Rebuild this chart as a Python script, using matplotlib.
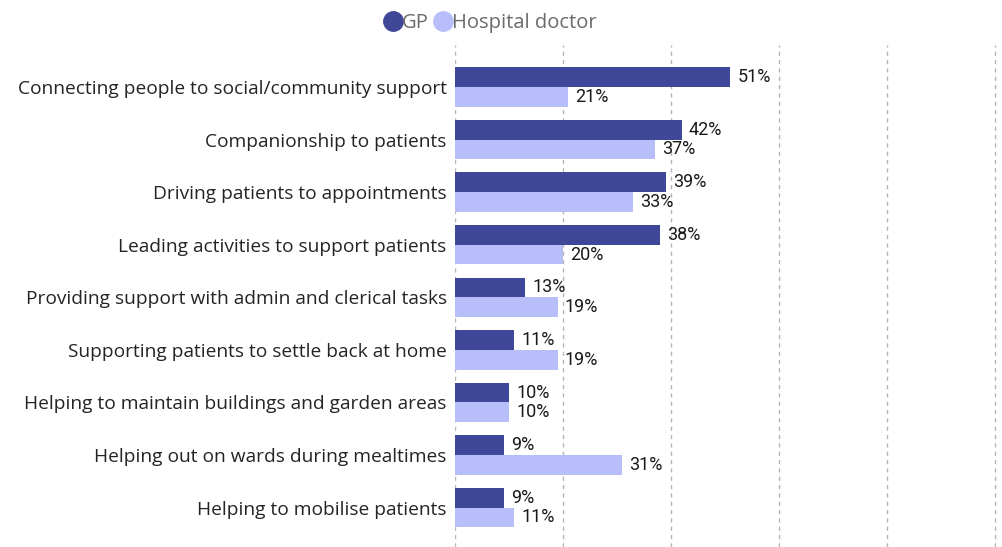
import matplotlib
matplotlib.use("Agg")
import matplotlib.pyplot as plt
from matplotlib.lines import Line2D
import numpy as np

categories = [
    "Connecting people to social/community support",
    "Companionship to patients",
    "Driving patients to appointments",
    "Leading activities to support patients",
    "Providing support with admin and clerical tasks",
    "Supporting patients to settle back at home",
    "Helping to maintain buildings and garden areas",
    "Helping out on wards during mealtimes",
    "Helping to mobilise patients",
]
gp = [51, 42, 39, 38, 13, 11, 10, 9, 9]
hospital = [21, 37, 33, 20, 19, 19, 10, 31, 11]
series_names = ["GP", "Hospital doctor"]

GP_COLOR = "#3F4799"
HOSP_COLOR = "#B8BEFA"

fig = plt.figure(figsize=(10.02, 5.47), dpi=100)
ax = fig.add_axes([455 / 1002, 0, 545 / 1002, 502 / 547])

y = np.arange(len(categories))
h = 0.375
ax.barh(y - h / 2, gp, height=h, color=GP_COLOR)
ax.barh(y + h / 2, hospital, height=h, color=HOSP_COLOR)

label_font = dict(fontsize=13, family="Roboto", color="#1a1a1a")
for yi, g, hv in zip(y, gp, hospital):
    ax.text(g + 1.3, yi - h / 2, f"{g}%", va="center", ha="left", **label_font)
    ax.text(hv + 1.3, yi + h / 2, f"{hv}%", va="center", ha="left", **label_font)

ax.set_xlim(0, 100.9)
ax.set_ylim(len(categories) - 0.25, -0.8)
ax.set_xticks([0, 20, 40, 60, 80, 100])
ax.grid(axis="x", linestyle=(0, (3, 3)), color="#b5b5b5", linewidth=1)
ax.set_axisbelow(True)
ax.tick_params(axis="x", length=0, labelbottom=False)
ax.tick_params(axis="y", length=0, pad=6)
ax.set_yticks(y)
ax.set_yticklabels(categories, fontsize=13.8, family="Open Sans", color="#252423")
for s in ax.spines.values():
    s.set_visible(False)

handles = [
    Line2D([], [], marker="o", linestyle="none", markersize=14,
           markerfacecolor=GP_COLOR, markeredgecolor=GP_COLOR),
    Line2D([], [], marker="o", linestyle="none", markersize=14,
           markerfacecolor=HOSP_COLOR, markeredgecolor=HOSP_COLOR),
]
leg = fig.legend(handles, series_names, loc="center", bbox_to_anchor=(0.489, 0.958),
                 ncol=2, frameon=False, handletextpad=-0.05, columnspacing=0.2,
                 handlelength=1.0, prop={"family": "Open Sans", "size": 14.5})
for t in leg.get_texts():
    t.set_color("#6b6b6b")

fig.savefig("out.png", dpi=100)
